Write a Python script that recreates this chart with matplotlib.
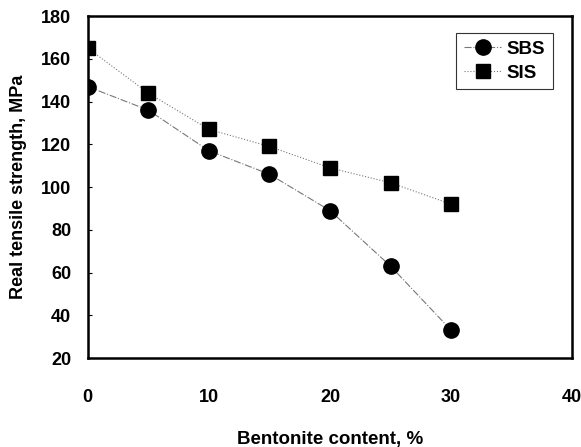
import matplotlib
matplotlib.use('Agg')
import matplotlib.pyplot as plt

bentonite = [0, 5, 10, 15, 20, 25, 30]
sbs = [147, 136, 117, 106, 89, 63, 33]
sis = [165, 144, 127, 119, 109, 102, 92]

plt.rcParams['font.family'] = ['Liberation Sans', 'DejaVu Sans']
plt.rcParams['font.weight'] = 'bold'

fig = plt.figure(figsize=(5.81, 4.47), dpi=100)
ax = fig.add_axes([0.151, 0.199, 0.834, 0.765])

ax.plot(bentonite, sbs, color='#777777', lw=0.8, ls='-.', marker='o', ms=11,
        mfc='black', mec='black', label='SBS')
ax.plot(bentonite, sis, color='#777777', lw=0.8, ls=':', marker='s', ms=10,
        mfc='black', mec='black', label='SIS')

ax.set_xlim(0, 40)
ax.set_ylim(20, 180)
ax.set_xticks([0, 10, 20, 30, 40])
ax.set_yticks(range(20, 181, 20))
ax.tick_params(axis='x', direction='in', length=0, pad=22, labelsize=13)
ax.tick_params(axis='y', direction='in', length=3, pad=12, labelsize=13)
for s in ax.spines.values():
    s.set_linewidth(1.8)

ax.set_xlabel('Bentonite content, %', fontsize=13.5, fontweight='bold', labelpad=18)
ax.set_ylabel('Real tensile strength, MPa', fontsize=13, fontweight='bold', labelpad=10)

leg = ax.legend(loc='upper right', bbox_to_anchor=(0.96, 0.95), borderaxespad=0,
                fontsize=13.5, frameon=True, fancybox=False, edgecolor='black',
                handlelength=2.0, borderpad=0.4, labelspacing=0.35, handletextpad=0.3)
leg.get_frame().set_linewidth(0.8)

fig.savefig('out.png', dpi=100)
